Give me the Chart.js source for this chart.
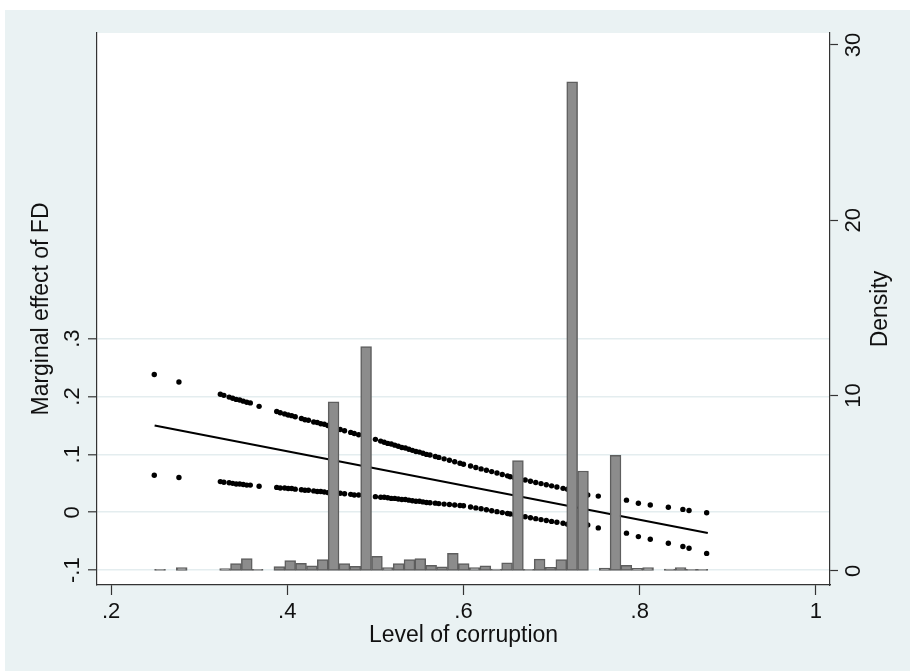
<!DOCTYPE html>
<html>
<head>
<meta charset="utf-8">
<script src="https://cdn.jsdelivr.net/npm/chart.js@4.4.1/dist/chart.umd.min.js"></script>
<style>
  html, body { margin: 0; padding: 0; background: #fff; }
  canvas { display: block; }
</style>
</head>
<body>
<canvas id="chart" width="910" height="671"></canvas>
<script>
// histogram of corruption level (density, right axis)
const binStart = 0.2494;
const binWidth = 0.01231;
const density = [
  0.10, 0, 0.19, 0, 0, 0, 0.14, 0.42, 0.70, 0.10,
  0, 0.25, 0.59, 0.44, 0.29, 0.65, 9.64, 0.42, 0.27, 12.8,
  0.84, 0.19, 0.42, 0.65, 0.70, 0.32, 0.23, 1.01, 0.42, 0.19,
  0.30, 0.11, 0.46, 6.30, 0.10, 0.68, 0.21, 0.65, 27.9, 5.70,
  0, 0.17, 6.60, 0.32, 0.15, 0.19, 0, 0.11, 0.20, 0.10,
  0.10
];

// marginal effect line (left axis)
const effectX = [0.2494, 0.8773];
const effectY = [0.150, -0.0357];

// 95% confidence bounds, dotted at observed values
const ciX = [
  0.249, 0.277, 0.324, 0.328, 0.334, 0.338, 0.342, 0.346, 0.350, 0.354,
  0.358, 0.368, 0.388, 0.392, 0.397, 0.401, 0.405, 0.409, 0.416, 0.420,
  0.424, 0.430, 0.434, 0.438, 0.442, 0.446, 0.460, 0.465, 0.472, 0.476,
  0.481, 0.500, 0.506, 0.510, 0.514, 0.518, 0.522, 0.526, 0.530, 0.534,
  0.538, 0.542, 0.546, 0.550, 0.554, 0.558, 0.562, 0.568, 0.572, 0.578,
  0.584, 0.590, 0.596, 0.600, 0.608, 0.614, 0.620, 0.626, 0.632, 0.638,
  0.644, 0.650, 0.653, 0.658, 0.664, 0.670, 0.676, 0.682, 0.688, 0.694,
  0.700, 0.706, 0.713, 0.718, 0.741, 0.753, 0.785, 0.7985, 0.812, 0.8325,
  0.849, 0.856, 0.876
];
const ciUpper = [
  0.238, 0.225, 0.204, 0.202, 0.199, 0.197, 0.195, 0.194, 0.192, 0.190,
  0.189, 0.183, 0.174, 0.172, 0.170, 0.168, 0.167, 0.165, 0.162, 0.160,
  0.159, 0.156, 0.155, 0.153, 0.152, 0.150, 0.143, 0.141, 0.138, 0.136,
  0.134, 0.126, 0.123, 0.121, 0.119, 0.118, 0.116, 0.114, 0.112, 0.111,
  0.109, 0.107, 0.105, 0.104, 0.102, 0.100, 0.099, 0.0965, 0.0948, 0.0923,
  0.0898, 0.0873, 0.0847, 0.083, 0.080, 0.0775, 0.075, 0.0727, 0.0703, 0.0678,
  0.0654, 0.063, 0.0615, 0.0598, 0.0578, 0.0557, 0.0537, 0.0516, 0.0496, 0.0477,
  0.0457, 0.0437, 0.0414, 0.040, 0.030, 0.028, 0.021, 0.0155, 0.0126, 0.0086,
  0.005, 0.003, -0.0007
];
const ciLower = [
  0.064, 0.060, 0.053, 0.052, 0.051, 0.050, 0.049, 0.049, 0.048, 0.047,
  0.047, 0.045, 0.043, 0.042, 0.042, 0.041, 0.041, 0.040, 0.039, 0.038,
  0.038, 0.037, 0.036, 0.036, 0.035, 0.034, 0.033, 0.032, 0.031, 0.030,
  0.030, 0.027, 0.026, 0.026, 0.025, 0.024, 0.024, 0.023, 0.022, 0.022,
  0.021, 0.020, 0.019, 0.019, 0.018, 0.017, 0.0166, 0.0158, 0.015, 0.0142,
  0.0134, 0.0126, 0.0118, 0.0114, 0.0092, 0.0076, 0.006, 0.0043, 0.0027, 0.0011,
  -0.0005, -0.0022, -0.003, -0.0044, -0.006, -0.0077, -0.0093, -0.011, -0.0126, -0.0141,
  -0.0157, -0.0173, -0.019, -0.0205, -0.022, -0.027, -0.036, -0.042, -0.0466, -0.0535,
  -0.059, -0.062, -0.071
];

// axis ticks
const xTicks = [0.2, 0.4, 0.6, 0.8, 1];
const leftTicks = [-0.1, 0, 0.1, 0.2, 0.3];
const rightTicks = [0, 10, 20, 30];

const xTitle = 'Level of corruption';
const leftTitle = 'Marginal effect of FD';
const rightTitle = 'Density';

const bgColor = '#EAF2F3';
const textColor = '#111';
const fontFamily = '"Liberation Sans", Arial, sans-serif';

const fmt = v => String(v).replace('0.', '.');

const frame = {
  id: 'stataFrame',
  beforeDraw(chart) {
    const { ctx, chartArea: a, width, height } = chart;
    ctx.save();
    ctx.fillStyle = '#fff';
    ctx.fillRect(0, 0, width, height);
    ctx.fillStyle = bgColor;
    ctx.fillRect(5, 10, width - 5, height - 10);
    ctx.fillStyle = '#fff';
    ctx.fillRect(a.left, a.top, a.right - a.left, a.bottom - a.top);
    ctx.restore();
  },
  afterDraw(chart) {
    const { ctx, chartArea: a } = chart;
    const sx = chart.scales.x, sy = chart.scales.y, sy2 = chart.scales.y2;
    const up = (t, x, y) => {
      ctx.save();
      ctx.translate(x, y);
      ctx.rotate(-Math.PI / 2);
      ctx.fillText(t, 0, 0);
      ctx.restore();
    };
    ctx.save();
    ctx.fillStyle = textColor;
    ctx.textAlign = 'center';
    ctx.textBaseline = 'alphabetic';
    ctx.font = '22px ' + fontFamily;
    xTicks.forEach(v => ctx.fillText(fmt(v), sx.getPixelForValue(v), 618));
    leftTicks.forEach(v => up(fmt(v), 79, sy.getPixelForValue(v)));
    rightTicks.forEach(v => up(fmt(v), 860, sy2.getPixelForValue(v)));
    ctx.font = '23px ' + fontFamily;
    ctx.fillText(xTitle, (a.left + a.right) / 2, 642);
    up(leftTitle, 48, (a.top + a.bottom) / 2);
    up(rightTitle, 887, (a.top + a.bottom) / 2);
    ctx.restore();
  }
};

const setTicks = vals => s => { s.ticks = vals.map(v => ({ value: v })); };

new Chart(document.getElementById('chart'), {
  type: 'bar',
  data: {
    datasets: [
      {
        type: 'bar',
        label: 'Density',
        data: density.map((d, i) => ({ x: binStart + (i + 0.5) * binWidth, y: d })),
        yAxisID: 'y2',
        backgroundColor: '#8c8c8c',
        borderColor: '#5e5e5e',
        borderWidth: 1.5,
        borderSkipped: false,
        barPercentage: 1,
        categoryPercentage: 1,
        order: 0
      },
      {
        type: 'line',
        label: 'Marginal effect',
        data: effectX.map((x, i) => ({ x, y: effectY[i] })),
        yAxisID: 'y',
        borderColor: '#000',
        borderWidth: 2.2,
        pointRadius: 0,
        order: 1
      },
      {
        type: 'scatter',
        label: 'Upper',
        data: ciX.map((x, i) => ({ x, y: ciUpper[i] })),
        yAxisID: 'y',
        backgroundColor: '#000',
        borderWidth: 0,
        pointRadius: 2.7,
        order: 2
      },
      {
        type: 'scatter',
        label: 'Lower',
        data: ciX.map((x, i) => ({ x, y: ciLower[i] })),
        yAxisID: 'y',
        backgroundColor: '#000',
        borderWidth: 0,
        pointRadius: 2.7,
        order: 2
      }
    ]
  },
  options: {
    responsive: false,
    animation: false,
    layout: { padding: { top: 33, left: 0, right: 0, bottom: 0 } },
    plugins: { legend: { display: false }, tooltip: { enabled: false } },
    scales: {
      x: {
        type: 'linear',
        min: 0.184,
        max: 1.016,
        offset: false,
        afterBuildTicks: setTicks(xTicks),
        afterFit: s => { s.height = 86; },
        ticks: { display: false },
        grid: { offset: false, drawOnChartArea: false, tickLength: 10, tickColor: '#333', tickWidth: 1.2 },
        border: { display: true, color: '#333', width: 1.2 }
      },
      y: {
        position: 'left',
        min: -0.1256,
        max: 0.828,
        afterBuildTicks: setTicks(leftTicks),
        afterFit: s => { s.width = 97; },
        ticks: { display: false },
        grid: { color: '#E4EDEF', lineWidth: 1.6, tickLength: 9, tickColor: '#333', tickWidth: 1.2 },
        border: { display: true, color: '#333', width: 1.2 }
      },
      y2: {
        position: 'right',
        min: -0.8,
        max: 30.68,
        afterBuildTicks: setTicks(rightTicks),
        afterFit: s => { s.width = 80; },
        ticks: { display: false },
        grid: { drawOnChartArea: false, tickLength: 8, tickColor: '#333', tickWidth: 1.2 },
        border: { display: true, color: '#333', width: 1.2 }
      }
    }
  },
  plugins: [frame]
});
</script>
</body>
</html>
